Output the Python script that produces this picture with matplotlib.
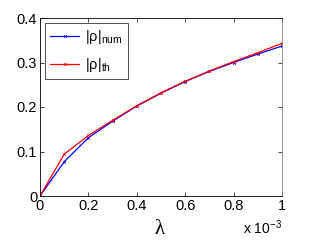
import matplotlib
matplotlib.use("Agg")
import matplotlib.pyplot as plt

plt.rcParams['font.family'] = ['Liberation Sans', 'DejaVu Sans']
plt.rcParams['mathtext.fontset'] = 'custom'
plt.rcParams['mathtext.rm'] = 'Liberation Sans'
plt.rcParams['mathtext.it'] = 'Liberation Sans'
plt.rcParams['mathtext.bf'] = 'Liberation Sans'

lam = [0, 0.1e-3, 0.2e-3, 0.3e-3, 0.4e-3, 0.5e-3, 0.6e-3, 0.7e-3, 0.8e-3, 0.9e-3, 1.0e-3]
rho_num = [0, 0.077, 0.131, 0.168, 0.202, 0.231, 0.257, 0.280, 0.300, 0.319, 0.337]
rho_th = [0, 0.094, 0.136, 0.170, 0.203, 0.232, 0.258, 0.281, 0.302, 0.322, 0.343]
xticks = [0, 0.2e-3, 0.4e-3, 0.6e-3, 0.8e-3, 1.0e-3]
xticklabels = ['0', '0.2', '0.4', '0.6', '0.8', '1']
yticks = [0, 0.1, 0.2, 0.3, 0.4]
yticklabels = ['0', '0.1', '0.2', '0.3', '0.4']

fig = plt.figure(figsize=(3.11, 2.42), dpi=100)
ax = fig.add_axes([40/311, 1-196/242, 242/311, 178/242])
ax.plot(lam, rho_num, color='#0000ff', lw=0.9, marker='x', ms=2.0, mew=0.5, label=r'|ρ|$_{\rm num}$')
ax.plot(lam, rho_th, color='#ff0000', lw=0.9, marker='x', ms=2.0, mew=0.5, label=r'|ρ|$_{\rm th}$')
ax.set_xlim(0, 1e-3)
ax.set_ylim(0, 0.4)
ax.set_xticks(xticks)
ax.set_xticklabels(xticklabels)
ax.set_yticks(yticks)
ax.set_yticklabels(yticklabels)
ax.tick_params(direction='in', top=True, right=True, length=3, width=0.5, labelsize=10.5, pad=2)
for s in ax.spines.values():
    s.set_linewidth(0.6)
ax.spines['right'].set_color('#808080')
leg = ax.legend(loc='upper left', fontsize=10.5, frameon=True, fancybox=False, edgecolor='black',
                handlelength=2.0, borderpad=0.35, labelspacing=0.65, handletextpad=0.4,
                borderaxespad=0.35)
leg.get_frame().set_linewidth(0.6)
fig.text(160/311, 1-230/242, 'λ', ha='center', va='center', fontsize=15, family='Liberation Serif')
fig.text(282/311, 1-228/242, r'x 10$^{-3}$', ha='right', va='center', fontsize=10)
fig.savefig('out.png', dpi=100)
